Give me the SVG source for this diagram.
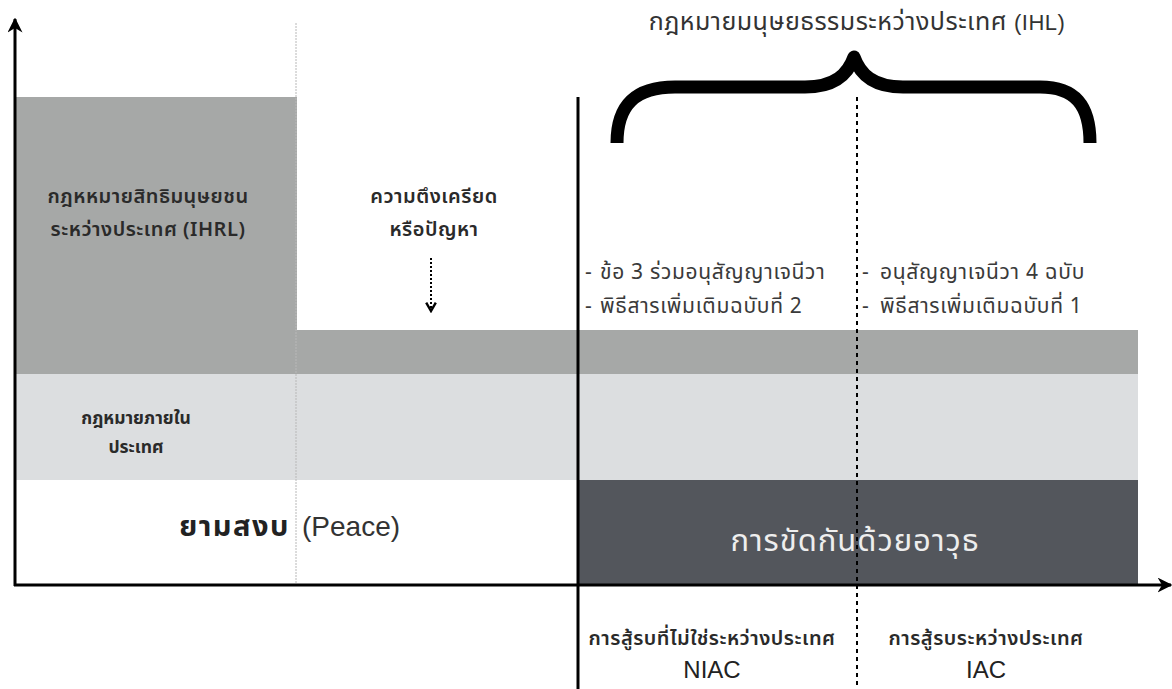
<svg xmlns="http://www.w3.org/2000/svg" width="1172" height="689" viewBox="0 0 1172 689">
<style>
  text { font-family: "Noto Sans Thai", "Noto Sans", "Liberation Sans", sans-serif; }
  .lbl { font-size: 20px; font-weight: 600; text-anchor: middle; fill: #2a2a2a; letter-spacing: 0.5px; }
  .item { font-size: 21px; fill: #3a3a3a; letter-spacing: 0.7px; }
  .lat { font-family: "Liberation Sans", Arial, sans-serif; }
  .axis { stroke: #000; stroke-width: 3; fill: none; }
</style>
<defs>
  <marker id="ah" viewBox="0 0 10 10" refX="9" refY="5" markerWidth="5" markerHeight="5" orient="auto" markerUnits="strokeWidth">
    <path d="M0,0 L10,5 L0,10 L3,5 Z" fill="#000"/>
  </marker>
  <marker id="ah2" viewBox="0 0 10 10" refX="8" refY="5" markerWidth="6" markerHeight="6" orient="auto" markerUnits="strokeWidth">
    <path d="M1,1 L8,5 L1,9" fill="none" stroke="#000" stroke-width="2"/>
  </marker>
</defs>

<g id="bands">
  <rect x="15" y="97" width="282" height="233" fill="#a6a8a7"/>
  <rect x="15" y="330" width="1123" height="44" fill="#a6a8a7"/>
  <rect x="15" y="374" width="1123" height="106" fill="#dcdee0"/>
  <rect x="578" y="480" width="560" height="105" fill="#53565c"/>
</g>

<g id="connectors">
  <line x1="296" y1="23" x2="296" y2="585" stroke="#b8b8b8" stroke-width="1" stroke-dasharray="2,1"/>
  <line x1="857" y1="97" x2="857" y2="689" stroke="#000" stroke-width="2" stroke-dasharray="4,4"/>
  <line x1="578" y1="97" x2="578" y2="689" stroke="#000" stroke-width="3"/>
  <line class="axis" x1="15" y1="586" x2="15" y2="19" marker-end="url(#ah)"/>
  <line class="axis" x1="14" y1="585" x2="1171" y2="585" marker-end="url(#ah)"/>
  <line x1="431" y1="258" x2="431" y2="311" stroke="#000" stroke-width="2" stroke-dasharray="2,2" marker-end="url(#ah2)"/>
  <path d="M617,143 C617,105 635,87 675,87 L805,87 C835,87 848,74 854,57 C860,74 873,87 903,87 L1040,87 C1075,87 1090,105 1090,143" fill="none" stroke="#000" stroke-width="13" stroke-linejoin="round"/>
</g>

<g id="ihl-title">
  <text x="857" y="30" font-size="25" text-anchor="middle" fill="#333" letter-spacing="0.5">กฎหมายมนุษยธรรมระหว่างประเทศ <tspan class="lat" font-size="22">(IHL)</tspan></text>
</g>

<g id="ihrl">
  <text class="lbl" x="148" y="203">กฎหหมายสิทธิมนุษยชน</text>
  <text class="lbl" x="148" y="236">ระหว่างประเทศ (IHRL)</text>
</g>

<g id="tension">
  <text class="lbl" x="434" y="203">ความตึงเครียด</text>
  <text class="lbl" x="434" y="236">หรือปัญหา</text>
</g>

<g id="niac-law">
  <text class="item" x="585" y="279">-</text>
  <text class="item" x="600" y="279">ข้อ 3 ร่วมอนุสัญญาเจนีวา</text>
  <text class="item" x="585" y="313">-</text>
  <text class="item" x="600" y="313">พิธีสารเพิ่มเติมฉบับที่ 2</text>
</g>

<g id="iac-law">
  <text class="item" x="862" y="279">-</text>
  <text class="item" x="880" y="279">อนุสัญญาเจนีวา 4 ฉบับ</text>
  <text class="item" x="862" y="313">-</text>
  <text class="item" x="880" y="313">พิธีสารเพิ่มเติมฉบับที่ 1</text>
</g>

<g id="domestic">
  <text class="lbl" x="136" y="424" style="font-size:17.5px;font-weight:bold;letter-spacing:0">กฎหมายภายใน</text>
  <text class="lbl" x="136" y="453" style="font-size:17.5px;font-weight:bold;letter-spacing:0">ประเทศ</text>
</g>

<g id="peace">
  <text x="290" y="536" font-size="29" text-anchor="end" font-weight="bold" fill="#222" letter-spacing="1.5">ยามสงบ</text>
  <text class="lat" x="302" y="536" font-size="28" fill="#333">(Peace)</text>
</g>

<g id="armed-conflict">
  <text x="855" y="551" font-size="31" text-anchor="middle" fill="#eeeeee" letter-spacing="1">การขัดกันด้วยอาวุธ</text>
</g>

<g id="niac">
  <text class="lbl" x="712" y="645">การสู้รบที่ไม่ใช่ระหว่างประเทศ</text>
  <text class="lat" x="712" y="678" font-size="24" text-anchor="middle" fill="#222">NIAC</text>
</g>

<g id="iac">
  <text class="lbl" x="986" y="645">การสู้รบระหว่างประเทศ</text>
  <text class="lat" x="986" y="678" font-size="24" text-anchor="middle" fill="#222">IAC</text>
</g>
</svg>
